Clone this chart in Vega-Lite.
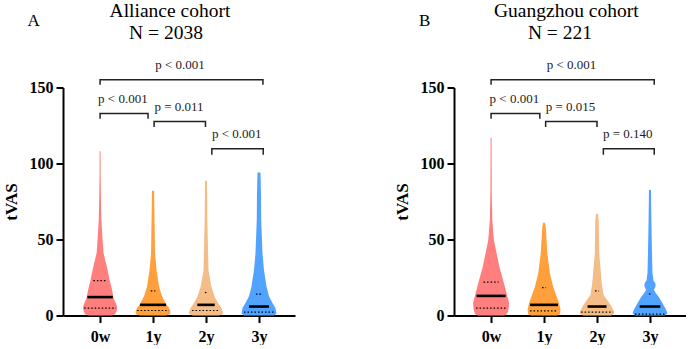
{
  "$schema": "https://vega.github.io/schema/vega-lite/v6.json",
  "padding": {"left": 2, "top": 0.5, "right": 0, "bottom": 0},
  "spacing": 98,
  "config": {
    "view": {"stroke": null},
    "axis": {"domainColor": "black", "domainWidth": 2, "tickColor": "black", "tickWidth": 2, "tickSize": 7, "labelFont": "Liberation Serif", "labelFontWeight": "bold", "labelFontSize": 16, "labelColor": "black", "grid": false, "titleFont": "Liberation Serif", "titleFontWeight": "bold", "titleFontSize": 17, "titleColor": "black"}
  },
  "datasets": {
    "violinA": [
      {"g":"0w","v":0,"lo":-0.208,"hi":0.208},{"g":"0w","v":0.8,"lo":-0.283,"hi":0.283},{"g":"0w","v":2.6,"lo":-0.311,"hi":0.311},{"g":"0w","v":5.9,"lo":-0.321,"hi":0.321},{"g":"0w","v":8.5,"lo":-0.292,"hi":0.292},{"g":"0w","v":11.4,"lo":-0.255,"hi":0.255},{"g":"0w","v":16.9,"lo":-0.226,"hi":0.226},{"g":"0w","v":23.4,"lo":-0.179,"hi":0.179},{"g":"0w","v":30,"lo":-0.142,"hi":0.142},{"g":"0w","v":41,"lo":-0.066,"hi":0.066},{"g":"0w","v":49.7,"lo":-0.047,"hi":0.047},{"g":"0w","v":62.8,"lo":-0.025,"hi":0.025},{"g":"0w","v":75,"lo":-0.017,"hi":0.017},{"g":"0w","v":90,"lo":-0.011,"hi":0.011},{"g":"0w","v":108,"lo":-0.009,"hi":0.009},
      {"g":"1y","v":0,"lo":0.755,"hi":1.245},{"g":"1y","v":0.8,"lo":0.679,"hi":1.321},{"g":"1y","v":2.6,"lo":0.670,"hi":1.330},{"g":"1y","v":5,"lo":0.698,"hi":1.302},{"g":"1y","v":8.2,"lo":0.764,"hi":1.236},{"g":"1y","v":12.6,"lo":0.830,"hi":1.170},{"g":"1y","v":19,"lo":0.887,"hi":1.113},{"g":"1y","v":30,"lo":0.934,"hi":1.066},{"g":"1y","v":41,"lo":0.962,"hi":1.038},{"g":"1y","v":62.8,"lo":0.972,"hi":1.028},{"g":"1y","v":82,"lo":0.981,"hi":1.019},
      {"g":"2y","v":0,"lo":1.755,"hi":2.245},{"g":"2y","v":0.8,"lo":1.689,"hi":2.311},{"g":"2y","v":2,"lo":1.679,"hi":2.321},{"g":"2y","v":5,"lo":1.708,"hi":2.292},{"g":"2y","v":8.2,"lo":1.774,"hi":2.226},{"g":"2y","v":12.6,"lo":1.840,"hi":2.160},{"g":"2y","v":19,"lo":1.900,"hi":2.100},{"g":"2y","v":30,"lo":1.953,"hi":2.047},{"g":"2y","v":62.8,"lo":1.975,"hi":2.025},{"g":"2y","v":88.6,"lo":1.981,"hi":2.019},
      {"g":"3y","v":0,"lo":2.717,"hi":3.283},{"g":"3y","v":1.3,"lo":2.670,"hi":3.330},{"g":"3y","v":5,"lo":2.689,"hi":3.311},{"g":"3y","v":8.2,"lo":2.745,"hi":3.255},{"g":"3y","v":12.6,"lo":2.811,"hi":3.189},{"g":"3y","v":19,"lo":2.858,"hi":3.142},{"g":"3y","v":30,"lo":2.906,"hi":3.094},{"g":"3y","v":41,"lo":2.934,"hi":3.066},{"g":"3y","v":62.8,"lo":2.958,"hi":3.042},{"g":"3y","v":80,"lo":2.962,"hi":3.038},{"g":"3y","v":94,"lo":2.972,"hi":3.028}
    ],
    "violinB": [
      {"g":"0w","v":0,"lo":-0.245,"hi":0.245},{"g":"0w","v":1,"lo":-0.302,"hi":0.302},{"g":"0w","v":3.9,"lo":-0.330,"hi":0.330},{"g":"0w","v":8.2,"lo":-0.340,"hi":0.340},{"g":"0w","v":14.7,"lo":-0.292,"hi":0.292},{"g":"0w","v":23.4,"lo":-0.226,"hi":0.226},{"g":"0w","v":32,"lo":-0.157,"hi":0.157},{"g":"0w","v":41,"lo":-0.104,"hi":0.104},{"g":"0w","v":49.7,"lo":-0.053,"hi":0.053},{"g":"0w","v":62.8,"lo":-0.023,"hi":0.023},{"g":"0w","v":80,"lo":-0.013,"hi":0.013},{"g":"0w","v":117,"lo":-0.009,"hi":0.009},
      {"g":"1y","v":0,"lo":0.755,"hi":1.245},{"g":"1y","v":1,"lo":0.698,"hi":1.302},{"g":"1y","v":3.9,"lo":0.689,"hi":1.311},{"g":"1y","v":8.2,"lo":0.717,"hi":1.283},{"g":"1y","v":12.6,"lo":0.764,"hi":1.236},{"g":"1y","v":19,"lo":0.830,"hi":1.170},{"g":"1y","v":28,"lo":0.891,"hi":1.109},{"g":"1y","v":41,"lo":0.938,"hi":1.062},{"g":"1y","v":58.5,"lo":0.968,"hi":1.032},{"g":"1y","v":61,"lo":0.981,"hi":1.019},
      {"g":"2y","v":0,"lo":1.736,"hi":2.264},{"g":"2y","v":1,"lo":1.679,"hi":2.321},{"g":"2y","v":2.6,"lo":1.679,"hi":2.321},{"g":"2y","v":6,"lo":1.726,"hi":2.274},{"g":"2y","v":10.3,"lo":1.811,"hi":2.189},{"g":"2y","v":13.5,"lo":1.877,"hi":2.123},{"g":"2y","v":17,"lo":1.891,"hi":2.109},{"g":"2y","v":20,"lo":1.906,"hi":2.094},{"g":"2y","v":23.4,"lo":1.915,"hi":2.085},{"g":"2y","v":41,"lo":1.958,"hi":2.042},{"g":"2y","v":62.8,"lo":1.968,"hi":2.032},{"g":"2y","v":67,"lo":1.981,"hi":2.019},
      {"g":"3y","v":0,"lo":2.717,"hi":3.283},{"g":"3y","v":1.5,"lo":2.670,"hi":3.330},{"g":"3y","v":4,"lo":2.698,"hi":3.302},{"g":"3y","v":8,"lo":2.764,"hi":3.236},{"g":"3y","v":12,"lo":2.830,"hi":3.170},{"g":"3y","v":15,"lo":2.896,"hi":3.104},{"g":"3y","v":17,"lo":2.925,"hi":3.075},{"g":"3y","v":19,"lo":2.896,"hi":3.104},{"g":"3y","v":21,"lo":2.896,"hi":3.104},{"g":"3y","v":23,"lo":2.934,"hi":3.066},{"g":"3y","v":28,"lo":2.953,"hi":3.047},{"g":"3y","v":41,"lo":2.962,"hi":3.038},{"g":"3y","v":62.8,"lo":2.974,"hi":3.026},{"g":"3y","v":82.6,"lo":2.981,"hi":3.019}
    ],
    "statsA": [
      {"s":"median","v":12.1,"lo":-0.24,"hi":0.24},{"s":"q","v":23,"lo":-0.126,"hi":0.126},{"s":"q","v":4.8,"lo":-0.30,"hi":0.30},
      {"s":"median","v":7,"lo":0.755,"hi":1.245},{"s":"q","v":16.2,"lo":0.957,"hi":1.043},{"s":"q","v":3.3,"lo":0.70,"hi":1.30},
      {"s":"median","v":7,"lo":1.836,"hi":2.164},{"s":"q","v":15.1,"lo":1.98,"hi":2.02},{"s":"q","v":3.3,"lo":1.736,"hi":2.264},
      {"s":"median","v":5.9,"lo":2.811,"hi":3.189},{"s":"q","v":14,"lo":2.943,"hi":3.057},{"s":"q","v":2.2,"lo":2.717,"hi":3.283}
    ],
    "statsB": [
      {"s":"median","v":12.9,"lo":-0.274,"hi":0.274},{"s":"q","v":21.9,"lo":-0.142,"hi":0.142},{"s":"q","v":4.8,"lo":-0.283,"hi":0.283},
      {"s":"median","v":7,"lo":0.736,"hi":1.264},{"s":"q","v":18.4,"lo":0.962,"hi":1.038},{"s":"q","v":3.1,"lo":0.736,"hi":1.264},
      {"s":"median","v":5.9,"lo":1.821,"hi":2.179},{"s":"q","v":16.2,"lo":1.962,"hi":2.038},{"s":"q","v":2.2,"lo":1.70,"hi":2.30},
      {"s":"median","v":5.9,"lo":2.805,"hi":3.195},{"s":"q","v":14.2,"lo":2.98,"hi":3.02},{"s":"q","v":0.9,"lo":2.717,"hi":3.283}
    ],
    "bracketsA": [
      {"id":1,"o":1,"x":0,"v":151.8},{"id":1,"o":2,"x":0,"v":155.1},{"id":1,"o":3,"x":3.075,"v":155.1},{"id":1,"o":4,"x":3.075,"v":151.8},
      {"id":2,"o":1,"x":0,"v":129.4},{"id":2,"o":2,"x":0,"v":132.9},{"id":2,"o":3,"x":0.906,"v":132.9},{"id":2,"o":4,"x":0.906,"v":129.4},
      {"id":3,"o":1,"x":1.02,"v":124},{"id":3,"o":2,"x":1.02,"v":127.6},{"id":3,"o":3,"x":1.99,"v":127.6},{"id":3,"o":4,"x":1.99,"v":124},
      {"id":4,"o":1,"x":2.11,"v":105.7},{"id":4,"o":2,"x":2.11,"v":109.7},{"id":4,"o":3,"x":3.08,"v":109.7},{"id":4,"o":4,"x":3.08,"v":105.7}
    ],
    "bracketsB": [
      {"id":1,"o":1,"x":0,"v":151.8},{"id":1,"o":2,"x":0,"v":155.1},{"id":1,"o":3,"x":3.08,"v":155.1},{"id":1,"o":4,"x":3.08,"v":151.8},
      {"id":2,"o":1,"x":0,"v":129.4},{"id":2,"o":2,"x":0,"v":132.9},{"id":2,"o":3,"x":0.92,"v":132.9},{"id":2,"o":4,"x":0.92,"v":129.4},
      {"id":3,"o":1,"x":1.03,"v":124},{"id":3,"o":2,"x":1.03,"v":127.6},{"id":3,"o":3,"x":2.0,"v":127.6},{"id":3,"o":4,"x":2.0,"v":124},
      {"id":4,"o":1,"x":2.12,"v":105.7},{"id":4,"o":2,"x":2.12,"v":109.7},{"id":4,"o":3,"x":3.08,"v":109.7},{"id":4,"o":4,"x":3.08,"v":105.7}
    ],
    "textA": [
      {"x":1.51,"v":165,"t":"p < 0.001"},{"x":0.43,"v":142.4,"t":"p < 0.001"},{"x":1.49,"v":137,"t":"p = 0.011"},{"x":2.58,"v":119.3,"t":"p < 0.001"}
    ],
    "textB": [
      {"x":1.52,"v":165,"t":"p < 0.001"},{"x":0.44,"v":142.4,"t":"p < 0.001"},{"x":1.5,"v":137,"t":"p = 0.015"},{"x":2.58,"v":119.3,"t":"p = 0.140"}
    ],
    "headA": [
      {"x":-1.255,"v":190.2,"t":"A","size":17},{"x":1.32,"v":196.3,"t":"Alliance cohort","size":19.5},{"x":1.245,"v":182.2,"t":"N = 2038","size":19.5}
    ],
    "headB": [
      {"x":-1.255,"v":190.2,"t":"B","size":17},{"x":1.42,"v":196.3,"t":"Guangzhou cohort","size":19.5},{"x":1.30,"v":182.2,"t":"N = 221","size":19.5}
    ]
  },
  "hconcat": [
    {
      "width": 232,
      "height": 228,
      "layer": [
        {
          "data": {"name": "violinA"},
          "mark": {"type": "area", "orient": "horizontal", "opacity": 1},
          "encoding": {
            "y": {"field": "v", "type": "quantitative", "scale": {"domain": [0, 150], "nice": false}, "axis": {"values": [0, 50, 100, 150], "title": "tVAS", "titlePadding": 9, "labelPadding": 3, "labelFont": "Liberation Serif", "titleFont": "Liberation Serif", "labelFontWeight": "bold", "titleFontWeight": "bold"}},
            "x": {"field": "lo", "type": "quantitative", "stack": null, "scale": {"domain": [-0.7, 3.68], "nice": false, "zero": false}, "axis": {"values": [0, 1, 2, 3], "labelExpr": "['0w','1y','2y','3y'][datum.value]", "title": null, "labelPadding": 6, "labelFont": "Liberation Serif", "labelFontWeight": "bold"}},
            "x2": {"field": "hi"},
            "color": {"field": "g", "type": "nominal", "scale": {"domain": ["0w", "1y", "2y", "3y"], "range": ["#FF7E7E", "#FFA03C", "#F4BD88", "#51A3FF"]}, "legend": null},
            "detail": {"field": "g"}
          }
        },
        {
          "data": {"name": "statsA"},
          "transform": [{"filter": "datum.s == 'median'"}],
          "mark": {"type": "rule", "color": "black", "strokeWidth": 2.6},
          "encoding": {"y": {"field": "v", "type": "quantitative"}, "x": {"field": "lo", "type": "quantitative"}, "x2": {"field": "hi"}}
        },
        {
          "data": {"name": "statsA"},
          "transform": [{"filter": "datum.s == 'q'"}],
          "mark": {"type": "rule", "color": "black", "strokeWidth": 1.2, "strokeDash": [1.5, 2]},
          "encoding": {"y": {"field": "v", "type": "quantitative"}, "x": {"field": "lo", "type": "quantitative"}, "x2": {"field": "hi"}}
        },
        {
          "data": {"name": "bracketsA"},
          "mark": {"type": "line", "color": "#222", "strokeWidth": 1.5},
          "encoding": {"x": {"field": "x", "type": "quantitative"}, "y": {"field": "v", "type": "quantitative"}, "detail": {"field": "id"}, "order": {"field": "o"}}
        },
        {
          "data": {"name": "textA"},
          "mark": {"type": "text", "font": "Liberation Serif", "fontSize": 13, "color": "#222", "baseline": "middle"},
          "encoding": {"x": {"field": "x", "type": "quantitative"}, "y": {"field": "v", "type": "quantitative"}, "text": {"field": "t"}}
        },
        {
          "data": {"name": "headA"},
          "mark": {"type": "text", "font": "Liberation Serif", "color": "black", "baseline": "alphabetic"},
          "encoding": {"x": {"field": "x", "type": "quantitative"}, "y": {"field": "v", "type": "quantitative"}, "text": {"field": "t"}, "size": {"field": "size", "type": "quantitative", "scale": null}}
        }
      ]
    },
    {
      "width": 232,
      "height": 228,
      "layer": [
        {
          "data": {"name": "violinB"},
          "mark": {"type": "area", "orient": "horizontal", "opacity": 1},
          "encoding": {
            "y": {"field": "v", "type": "quantitative", "scale": {"domain": [0, 150], "nice": false}, "axis": {"values": [0, 50, 100, 150], "title": "tVAS", "titlePadding": 9, "labelPadding": 3, "labelFont": "Liberation Serif", "titleFont": "Liberation Serif", "labelFontWeight": "bold", "titleFontWeight": "bold"}},
            "x": {"field": "lo", "type": "quantitative", "stack": null, "scale": {"domain": [-0.7, 3.68], "nice": false, "zero": false}, "axis": {"values": [0, 1, 2, 3], "labelExpr": "['0w','1y','2y','3y'][datum.value]", "title": null, "labelPadding": 6, "labelFont": "Liberation Serif", "labelFontWeight": "bold"}},
            "x2": {"field": "hi"},
            "color": {"field": "g", "type": "nominal", "scale": {"domain": ["0w", "1y", "2y", "3y"], "range": ["#FF7E7E", "#FFA03C", "#F4BD88", "#51A3FF"]}, "legend": null},
            "detail": {"field": "g"}
          }
        },
        {
          "data": {"name": "statsB"},
          "transform": [{"filter": "datum.s == 'median'"}],
          "mark": {"type": "rule", "color": "black", "strokeWidth": 2.6},
          "encoding": {"y": {"field": "v", "type": "quantitative"}, "x": {"field": "lo", "type": "quantitative"}, "x2": {"field": "hi"}}
        },
        {
          "data": {"name": "statsB"},
          "transform": [{"filter": "datum.s == 'q'"}],
          "mark": {"type": "rule", "color": "black", "strokeWidth": 1.2, "strokeDash": [1.5, 2]},
          "encoding": {"y": {"field": "v", "type": "quantitative"}, "x": {"field": "lo", "type": "quantitative"}, "x2": {"field": "hi"}}
        },
        {
          "data": {"name": "bracketsB"},
          "mark": {"type": "line", "color": "#222", "strokeWidth": 1.5},
          "encoding": {"x": {"field": "x", "type": "quantitative"}, "y": {"field": "v", "type": "quantitative"}, "detail": {"field": "id"}, "order": {"field": "o"}}
        },
        {
          "data": {"name": "textB"},
          "mark": {"type": "text", "font": "Liberation Serif", "fontSize": 13, "color": "#222", "baseline": "middle"},
          "encoding": {"x": {"field": "x", "type": "quantitative"}, "y": {"field": "v", "type": "quantitative"}, "text": {"field": "t"}}
        },
        {
          "data": {"name": "headB"},
          "mark": {"type": "text", "font": "Liberation Serif", "color": "black", "baseline": "alphabetic"},
          "encoding": {"x": {"field": "x", "type": "quantitative"}, "y": {"field": "v", "type": "quantitative"}, "text": {"field": "t"}, "size": {"field": "size", "type": "quantitative", "scale": null}}
        }
      ]
    }
  ]
}
